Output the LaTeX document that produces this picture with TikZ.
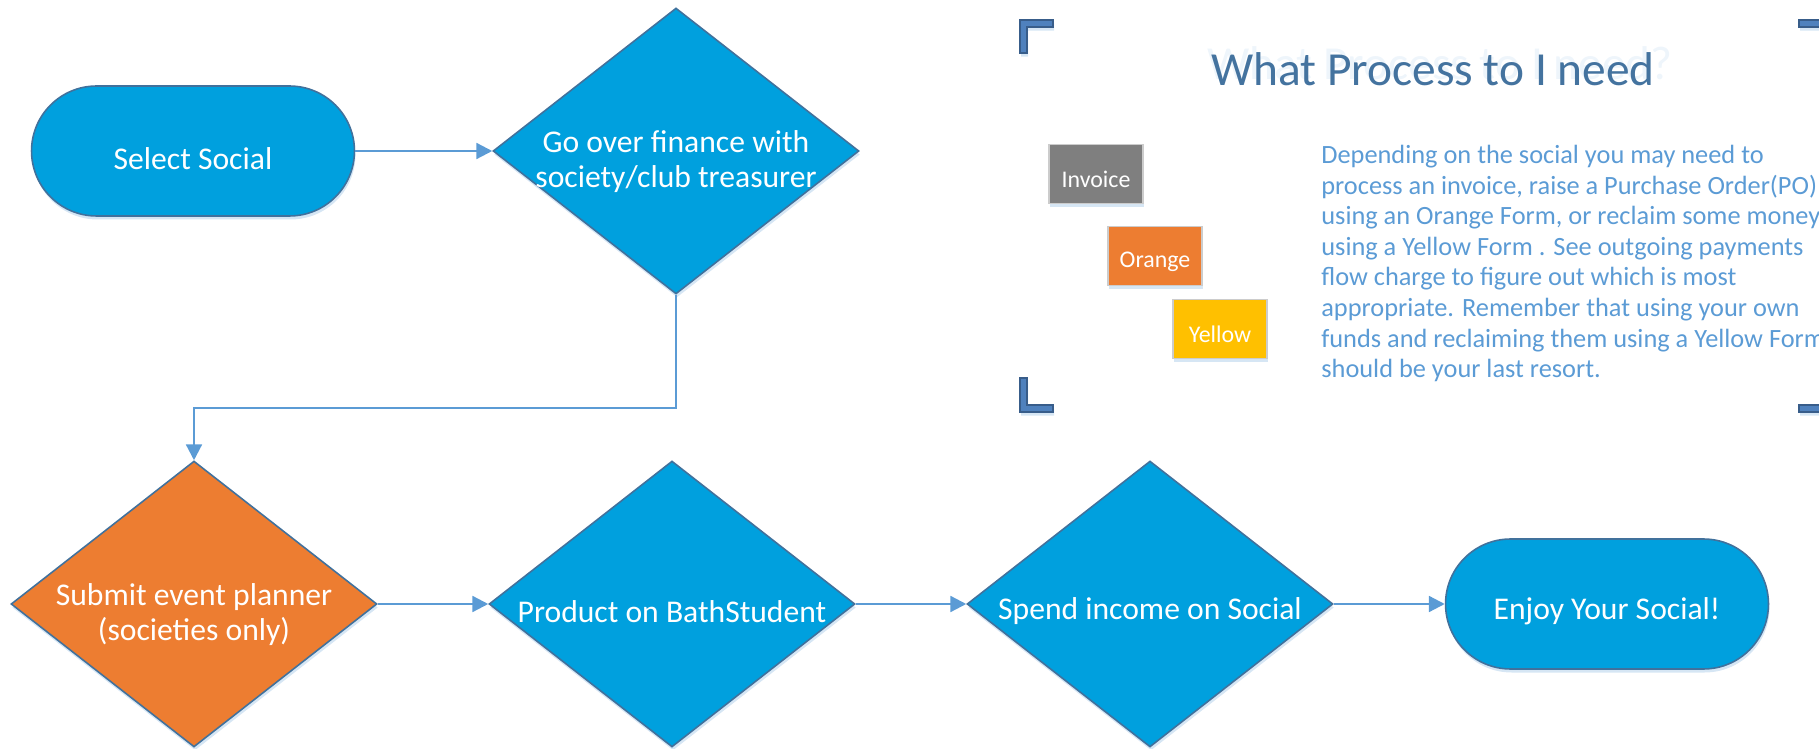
\documentclass[tikz,border=0pt]{standalone}
\usepackage{fontspec}
\setmainfont{Carlito}
\usetikzlibrary{shapes.geometric,shapes.misc,arrows.meta,shadows}

\definecolor{sblue}{HTML}{00A0DE}
\definecolor{sorange}{HTML}{ED7D31}
\definecolor{sgray}{HTML}{7F7F7F}
\definecolor{syellow}{HTML}{FFC000}
\definecolor{bline}{HTML}{41719C}
\definecolor{aline}{HTML}{5B9BD5}
\definecolor{tblue}{HTML}{44739F}
\definecolor{kfill}{HTML}{4F81BD}
\definecolor{kline}{HTML}{385D8A}

\begin{document}
\begin{tikzpicture}[x=0.02cm, y=-0.02cm,
    soft/.style={drop shadow={shadow xshift=0.6pt, shadow yshift=-2pt, fill=aline, opacity=0.25}},
    dnode/.style={diamond, aspect=1.29, draw=bline, line width=0.9pt, fill=sblue, minimum width=7.32cm, minimum height=5.72cm, inner sep=0pt, text=white, align=center, font=\fontsize{18}{20}\selectfont, execute at begin node={\rule{0pt}{1.15em}}, soft},
    dtwo/.style={dnode, inner ysep=-11pt, execute at begin node={\rule{0pt}{2.5em}}},
    tnode/.style={rounded rectangle, draw=bline, line width=0.9pt, fill=sblue, minimum width=6.46cm, minimum height=2.6cm, inner sep=0pt, text=white, font=\fontsize{18}{20}\selectfont, execute at begin node={\rule{0pt}{1.15em}}, soft},
    knode/.style={rectangle, draw=black!20, line width=0.6pt, minimum width=1.88cm, minimum height=1.18cm, inner sep=0pt, text=white, font=\fontsize{13.6}{15}\selectfont, execute at begin node={\rule{0pt}{1.15em}}, soft},
    flow/.style={draw=aline, line width=1.3pt, -{Triangle[length=9pt,width=9pt]}},
    kmark/.style={fill=kfill, draw=kline, line width=0.6pt, soft}]
    \useasboundingbox (0,0) rectangle (1819,749);
    \clip (0,0) rectangle (1819,749);

    % flow chart
    \node[tnode] (sel) at (193,151) {Select Social};
    \node[dtwo] (fin) at (676,151) {Go over finance with\\society/club treasurer};
    \node[dtwo, fill=sorange] (plan) at (194,604) {Submit event planner\\(societies only)};
    \node[dnode] (prod) at (672,604) {Product on BathStudent};
    \node[dnode] (spend) at (1150,604) {Spend income on Social};
    \node[tnode] (enjoy) at (1607,604) {Enjoy Your Social!};

    \draw[flow] (sel.east) -- (fin.west);
    \draw[flow] (fin.south) -- ++(0,113) -| (plan.north);
    \draw[flow] (plan.east) -- (prod.west);
    \draw[flow] (prod.east) -- (spend.west);
    \draw[flow] (spend.east) -- (enjoy.west);

    % key panel
    \filldraw[kmark] (1020,20) -- (1053,20) -- (1053,27) -- (1027,27) -- (1027,53) -- (1020,53) -- cycle;
    \filldraw[kmark] (1020,378) -- (1027,378) -- (1027,405) -- (1053,405) -- (1053,412) -- (1020,412) -- cycle;
    \filldraw[kmark] (1799,20) -- (1832,20) -- (1832,53) -- (1825,53) -- (1825,27) -- (1799,27) -- cycle;
    \filldraw[kmark] (1799,405) -- (1825,405) -- (1825,378) -- (1832,378) -- (1832,412) -- (1799,412) -- cycle;

    \node[anchor=base, text=aline, opacity=0.1, font=\fontsize{27}{30}\selectfont] (ghost) at (1440,80) {What Process to I need?};
    \node[anchor=base, text=tblue, font=\fontsize{27}{30}\selectfont] (title) at (1433,86) {What Process to I need};

    \node[knode, fill=sgray] (inv) at (1096,174) {Invoice};
    \node[knode, fill=sorange] (org) at (1155,256) {Orange};
    \node[knode, fill=syellow] (yel) at (1220,329) {Yellow};

    \node[anchor=north west, inner sep=0pt, align=left, text=aline, font=\fontsize{15}{17.4}\selectfont] (note) at (1321,145)
      {Depending on the social you may need to\\
       process an invoice, raise a Purchase Order(PO)\\
       using an Orange Form, or reclaim some money\\
       using a Yellow Form .  See outgoing payments\\
       flow charge to figure out which is most\\
       appropriate. Remember that using your own\\
       funds and reclaiming them using a Yellow Form\\
       should be your last resort.};
\end{tikzpicture}
\end{document}
